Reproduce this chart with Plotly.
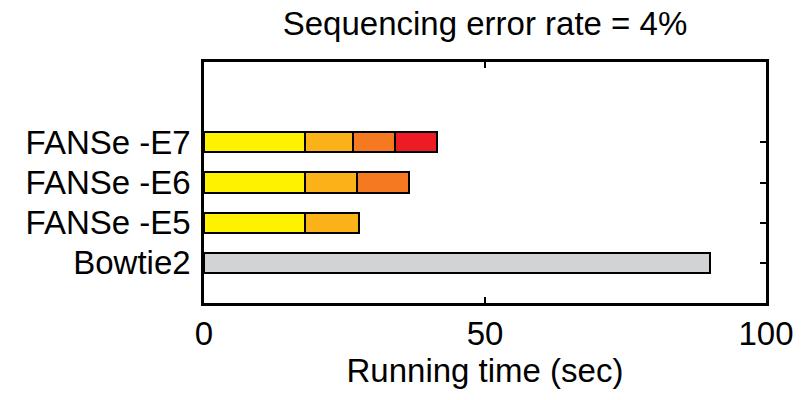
import plotly.graph_objects as go

# Aligners, bottom to top
categories = ["Bowtie2", "FANSe -E5", "FANSe -E6", "FANSe -E7"]

# Running time (sec) of each stage; None where a run has no such stage
bowtie2_time = [90.0, None, None, None]
stage1_time = [None, 18.0, 18.0, 18.0]
stage2_time = [None, 9.5, 9.2, 8.5]
stage3_time = [None, None, 9.2, 7.4]
stage4_time = [None, None, None, 7.6]

x_ticks = [0, 50, 100]

series = [
    (bowtie2_time, "#D1D3D4"),
    (stage1_time, "#FFF200"),
    (stage2_time, "#FBB118"),
    (stage3_time, "#F47920"),
    (stage4_time, "#ED1C24"),
]

FONT = "Liberation Sans, Arial, sans-serif"
SIZE = 33

fig = go.Figure()
for values, color in series:
    fig.add_trace(go.Bar(
        y=categories,
        x=values,
        orientation="h",
        width=0.5,
        marker=dict(color=color, line=dict(color="black", width=2)),
        showlegend=False,
        hoverinfo="skip",
    ))

fig.update_layout(
    width=812,
    height=400,
    margin=dict(l=204, r=46, t=62, b=97),
    paper_bgcolor="white",
    plot_bgcolor="white",
    barmode="stack",
    font=dict(family=FONT, size=SIZE, color="black"),
    title=dict(
        text="Sequencing error rate = 4%",
        x=(204 + 766) / 2 / 812,
        xanchor="center",
        y=1 - 23 / 400,
        yanchor="middle",
        yref="container",
        font=dict(family=FONT, size=SIZE, color="black"),
    ),
)

fig.update_xaxes(
    range=[0, 100],
    tickvals=x_ticks,
    ticktext=[str(v) for v in x_ticks],
    ticks="inside",
    ticklen=6,
    tickwidth=2,
    tickcolor="black",
    showline=True,
    linecolor="black",
    linewidth=2.5,
    mirror="ticks",
    showgrid=False,
    zeroline=False,
    ticklabelstandoff=0,
    title=dict(text="Running time (sec)", standoff=4,
               font=dict(family=FONT, size=SIZE, color="black")),
)

fig.update_yaxes(
    type="category",
    categoryorder="array",
    categoryarray=categories,
    range=[-1, 5],
    ticks="inside",
    ticklen=6,
    tickwidth=2,
    tickcolor="black",
    showline=True,
    linecolor="black",
    linewidth=2.5,
    mirror="ticks",
    showgrid=False,
    zeroline=False,
    ticklabelstandoff=4,
    layer="below traces",
)

fig.write_html("out.html")
